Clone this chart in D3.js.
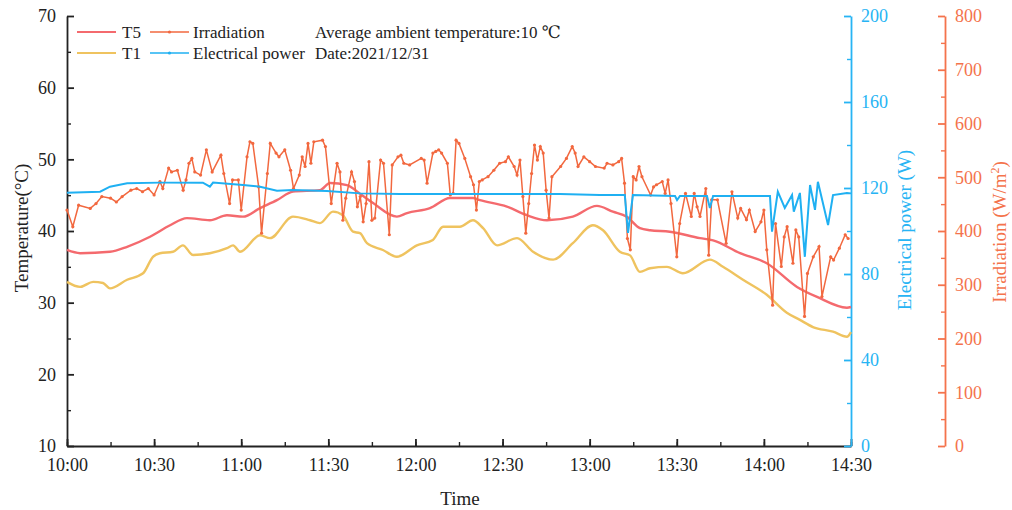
<!DOCTYPE html>
<html>
<head>
<meta charset="utf-8">
<script src="https://cdn.jsdelivr.net/npm/d3@7"></script>
<style>
  body { margin: 0; background: #fff; }
  text { font-family: "Liberation Serif", "DejaVu Serif", serif; }
</style>
</head>
<body>
<svg width="1012" height="510"></svg>
<script>
// minutes after 10:00, value
var t5Data = [
  [0, 37.35], [4.5, 36.9], [14.8, 37.1], [20.7, 37.8], [28.6, 39.2], [35.5, 40.8],
  [41.3, 41.8], [49.2, 41.5], [55.1, 42.2], [60.6, 42.0], [66.5, 43.2], [72.3, 44.3],
  [77.8, 45.5], [87.1, 45.7], [90.6, 46.7], [96.4, 46.4], [100.9, 45.2], [105.4, 43.9],
  [113.6, 42.0], [117.1, 42.5], [125, 43.2], [131.9, 44.6], [139.8, 44.6], [142.2, 44.3],
  [151.5, 43.4], [158.4, 42.2], [165.3, 41.5], [174.2, 42.0], [182.5, 43.5], [188, 42.7],
  [192.8, 42.0], [197.3, 40.4], [200.8, 40.1], [207.6, 39.9], [218, 39.0], [222.5, 38.7],
  [231.8, 36.9], [241, 35.5], [251.4, 32.2], [258.3, 30.8], [268.6, 29.3], [270, 29.4]
];

var t1Data = [
  [0, 32.9], [4.5, 32.2], [9, 32.9], [12.4, 32.75], [14.8, 32.0], [20.7, 33.2],
  [26.2, 34.1], [29.6, 36.4], [32, 36.9], [36.5, 37.1], [39.9, 38.0], [43.4, 36.65],
  [49.2, 36.9], [55.1, 37.6], [57.2, 38.0], [59.6, 37.1], [66.5, 39.4], [69.9, 39.0],
  [77.8, 42.0], [83.7, 41.5], [87.1, 41.1], [91.6, 42.7], [95, 42.2], [98.5, 39.9],
  [100.9, 39.7], [103.3, 38.3], [108.8, 37.35], [113.6, 36.4], [120.5, 38.0], [126, 38.75],
  [129.5, 40.6], [135.3, 40.6], [139.8, 41.5], [143.3, 40.4], [148.1, 38.0], [155, 39.0],
  [160.5, 37.1], [167.4, 36.0], [174.2, 38.3], [181.1, 40.8], [184.6, 40.1], [190.4, 37.1],
  [193.9, 36.6], [197.3, 34.3], [200.8, 34.8], [206.6, 35.0], [212.1, 34.1], [221.4, 36.0],
  [225.9, 35.0], [232.8, 33.2], [241, 31.1], [247.9, 28.6], [252.4, 27.6], [256.9, 26.6],
  [263.8, 25.95], [268.6, 25.25], [270, 25.9]
];

var powerData = [
  [0, 117.8], [11.4, 118.3], [14.8, 120.6], [20.7, 122.2], [32, 122.5], [46.8, 122.5],
  [49.2, 120.6], [50.3, 122.5], [60.6, 121.4], [66.5, 120.6], [72.3, 118.7], [77.8, 119.1],
  [89.5, 118.6], [100.9, 117.5], [114.7, 117.2], [131.9, 117.2], [149.1, 117.2], [169.8, 117.2],
  [183.5, 116.7], [192.1, 116.7], [193.2, 99.1], [194.9, 116.7], [209.4, 116.3], [210.1, 114.4],
  [211.1, 116.3], [220.4, 116.3], [221.4, 110.7], [222.5, 116.3], [242.1, 116.3], [242.8, 99.7],
  [244.8, 118.3], [247.2, 110.7], [249.7, 116.7], [250.3, 109], [252.4, 117.7], [254.1, 88],
  [255.9, 121.4], [257.6, 109.8], [258.6, 122.9], [262.1, 102.8], [263.8, 116.7], [268.6, 117.7],
  [270, 117.5]
];

var irrData = [
  [0, 439], [2, 408], [4, 448], [8, 442], [10, 451], [12, 464], [15, 461], [17, 454], [19, 464],
  [22, 476], [24, 479], [26, 473], [28, 479], [30, 467], [32, 492], [33, 479], [35, 517], [36, 510],
  [38, 513], [40, 476], [41, 495], [42, 526], [43, 535], [44, 510], [46, 504], [48, 551], [50, 510],
  [53, 541], [54, 507], [56, 451], [57, 495], [59, 495], [60, 439], [62, 538], [63, 566], [64, 563],
  [66, 482], [67, 396], [69, 507], [70, 563], [72, 545], [73, 538], [75, 551], [77, 513], [78, 479],
  [80, 504], [81, 538], [82, 520], [83, 563], [84, 526], [85, 566], [88, 569], [89, 557], [91, 451],
  [93, 526], [94, 510], [95, 420], [96, 461], [98, 510], [99, 492], [100, 445], [101, 464], [102, 417],
  [103, 451], [104, 529], [105, 420], [106, 424], [108, 532], [109, 526], [111, 393], [112, 523],
  [114, 538], [115, 541], [116, 526], [118, 523], [122, 535], [123, 532], [124, 489], [126, 545],
  [127, 548], [128, 551], [129, 545], [131, 526], [132, 467], [133, 470], [134, 569], [135, 563],
  [137, 535], [139, 501], [140, 486], [141, 439], [142, 492], [143, 495], [145, 501], [147, 513],
  [149, 526], [151, 529], [152, 538], [154, 520], [155, 504], [156, 532], [157, 464], [158, 396],
  [159, 451], [160, 507], [161, 560], [162, 532], [163, 557], [164, 545], [165, 476], [166, 424],
  [167, 501], [170, 520], [172, 535], [174, 557], [175, 545], [176, 520], [178, 538], [180, 529],
  [182, 520], [185, 517], [186, 526], [188, 523], [190, 529], [191, 535], [192, 489], [193, 386],
  [194, 365], [195, 501], [196, 495], [197, 520], [198, 501], [201, 467], [202, 482], [203, 486],
  [205, 492], [206, 470], [207, 495], [208, 451], [210, 352], [211, 414], [213, 470], [215, 427],
  [216, 470], [217, 445], [218, 427], [220, 479], [221, 355], [222, 458], [224, 458], [227, 377],
  [229, 473], [231, 424], [232, 442], [234, 421], [235, 439], [237, 399], [239, 417], [240, 439],
  [241, 365], [243, 262], [244, 414], [246, 334], [247, 389], [248, 408], [250, 340], [251, 402],
  [252, 389], [254, 241], [255, 321], [257, 352], [259, 371], [260, 278], [263, 352], [264, 346],
  [266, 368], [268, 393], [269, 386]
];

var tempTicks = [10, 20, 30, 40, 50, 60, 70];
var tempMinor = [15, 25, 35, 45, 55, 65];
var powerTicks = [0, 40, 80, 120, 160, 200];
var powerMinor = [20, 60, 100, 140, 180];
var irrTicks = [0, 100, 200, 300, 400, 500, 600, 700, 800];
var irrMinor = [50, 150, 250, 350, 450, 550, 650, 750];

var colT5 = "#f46a6e",
  colT1 = "#efc35f",
  colIrr = "#f2683f",
  colPow = "#1fb0f2",
  colPowAxis = "#27b4f4",
  colIrrAxis = "#f4734c",
  colAxis = "#222";

var svg = d3.select("svg");
var plotLeft = 67, plotRight = 851, plotTop = 16, plotBottom = 446, irrAxisX = 945;

var t0 = new Date(2021, 11, 31, 10, 0);
var toDate = function(m) { return new Date(t0.getTime() + m * 60000); };

var x = d3.scaleTime().domain([t0, toDate(270)]).range([plotLeft, plotRight]);
var yT = d3.scaleLinear().domain([10, 70]).range([plotBottom, plotTop]);
var yP = d3.scaleLinear().domain([0, 200]).range([plotBottom, plotTop]);
var yI = d3.scaleLinear().domain([0, 800]).range([plotBottom, plotTop]);

// minor ticks (no labels, no domain line)
function minorTicks(tx, axis, col) {
  var g = svg.append("g").attr("transform", tx).call(axis.tickSize(-4));
  g.selectAll("text").remove();
  g.select(".domain").remove();
  g.selectAll("line").attr("stroke", col).attr("stroke-width", 1.4);
}

function majorAxis(tx, axis, col) {
  var g = svg.append("g").attr("transform", tx)
    .call(axis.tickSize(-7).tickSizeOuter(0));
  g.selectAll("path, line").attr("stroke", col).attr("stroke-width", 1.8);
  g.selectAll("text").attr("fill", col).style("font-size", "18px");
  return g;
}

minorTicks("translate(" + plotLeft + ",0)", d3.axisLeft(yT).tickValues(tempMinor), colAxis);
minorTicks("translate(0," + plotBottom + ")", d3.axisBottom(x).ticks(d3.timeMinute.every(15)), colAxis);
minorTicks("translate(" + plotRight + ",0)", d3.axisRight(yP).tickValues(powerMinor), colPowAxis);
minorTicks("translate(" + irrAxisX + ",0)", d3.axisRight(yI).tickValues(irrMinor), colIrrAxis);

majorAxis("translate(" + plotLeft + ",0)",
  d3.axisLeft(yT).tickValues(tempTicks).tickPadding(11), colAxis);
majorAxis("translate(0," + plotBottom + ")",
  d3.axisBottom(x).ticks(d3.timeMinute.every(30)).tickFormat(d3.timeFormat("%H:%M")).tickPadding(12), colAxis);
majorAxis("translate(" + plotRight + ",0)",
  d3.axisRight(yP).tickValues(powerTicks).tickPadding(10), colPowAxis);
majorAxis("translate(" + irrAxisX + ",0)",
  d3.axisRight(yI).tickValues(irrTicks).tickPadding(10), colIrrAxis);

// series
var lineT = d3.line()
  .curve(d3.curveMonotoneX)
  .x(function(d) { return x(toDate(d[0])); })
  .y(function(d) { return yT(d[1]); });
var lineP = d3.line()
  .x(function(d) { return x(toDate(d[0])); })
  .y(function(d) { return yP(d[1]); });
var lineI = d3.line()
  .x(function(d) { return x(toDate(d[0])); })
  .y(function(d) { return yI(d[1]); });

svg.append("path").datum(t5Data)
  .attr("d", lineT).attr("fill", "none").attr("stroke", colT5).attr("stroke-width", 2.4);
svg.append("path").datum(t1Data)
  .attr("d", lineT).attr("fill", "none").attr("stroke", colT1).attr("stroke-width", 2.4);

svg.append("path").datum(irrData)
  .attr("d", lineI).attr("fill", "none").attr("stroke", colIrr).attr("stroke-width", 1.5);
svg.append("g").selectAll("circle")
  .data(irrData)
  .enter()
  .append("circle")
  .attr("cx", function(d) { return x(toDate(d[0])); })
  .attr("cy", function(d) { return yI(d[1]); })
  .attr("r", 1.6)
  .attr("fill", colIrr);

svg.append("path").datum(powerData)
  .attr("d", lineP).attr("fill", "none").attr("stroke", colPow).attr("stroke-width", 2);

// axis titles
svg.append("text")
  .attr("transform", "translate(28,228) rotate(-90)")
  .attr("text-anchor", "middle")
  .style("font-size", "19px")
  .attr("fill", colAxis)
  .text("Temperature(\u00B0C)");

svg.append("text")
  .attr("x", 460).attr("y", 505)
  .attr("text-anchor", "middle")
  .style("font-size", "19px")
  .attr("fill", colAxis)
  .text("Time");

svg.append("text")
  .attr("transform", "translate(911,230) rotate(-90)")
  .attr("text-anchor", "middle")
  .style("font-size", "19px")
  .attr("fill", colPowAxis)
  .text("Electrical power (W)");

var irrTitle = svg.append("text")
  .attr("transform", "translate(1006,232) rotate(-90)")
  .attr("text-anchor", "middle")
  .style("font-size", "19px")
  .attr("fill", colIrrAxis);
irrTitle.append("tspan").text("Irradiation (W/m");
irrTitle.append("tspan").attr("dy", -7).style("font-size", "12px").text("2");
irrTitle.append("tspan").attr("dy", 7).text(")");

// legend
var legend = [
  { name: "T5", col: colT5, x: 77, y: 32, dot: false },
  { name: "T1", col: colT1, x: 77, y: 53, dot: false },
  { name: "Irradiation", col: colIrr, x: 150, y: 32, dot: true },
  { name: "Electrical power", col: colPow, x: 150, y: 53, dot: true }
];
var lg = svg.append("g").selectAll("g")
  .data(legend)
  .enter()
  .append("g")
  .attr("transform", function(d) { return "translate(" + d.x + "," + d.y + ")"; });
lg.append("line")
  .attr("x1", 0).attr("x2", 39)
  .attr("stroke", function(d) { return d.col; })
  .attr("stroke-width", function(d) { return d.dot ? 1.6 : 2.2; });
lg.filter(function(d) { return d.dot; }).append("circle")
  .attr("cx", 19.5).attr("r", 1.6)
  .attr("fill", function(d) { return d.col; });
lg.append("text")
  .attr("x", function(d) { return d.dot ? 43 : 45; })
  .attr("y", 6)
  .style("font-size", "17px")
  .attr("fill", colAxis)
  .text(function(d) { return d.name; });

svg.append("text")
  .attr("x", 315).attr("y", 38)
  .style("font-size", "17px")
  .attr("fill", colAxis)
  .text("Average ambient temperature:10 \u2103");
svg.append("text")
  .attr("x", 315).attr("y", 59)
  .style("font-size", "17px")
  .attr("fill", colAxis)
  .text("Date:2021/12/31");
</script>
</body>
</html>
